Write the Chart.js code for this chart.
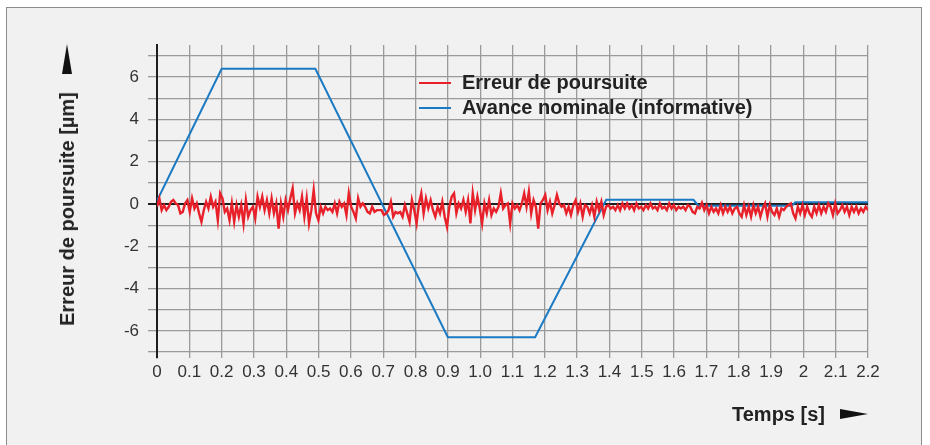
<!DOCTYPE html>
<html lang="fr">
  <head>
    <meta charset="UTF-8" />
    <title>Erreur de poursuite</title>
    <script src="https://cdn.jsdelivr.net/npm/chart.js"></script>
    <style>
      body { margin: 0; background: #fff; font-family: "Liberation Sans", Arial, sans-serif; }
      #frame { position: absolute; left: 6px; top: 7px; width: 914px; height: 460px; border: 1.5px solid #8c8c8c; background: #f1f1f1; }
      #chart { position: absolute; left: 0; top: 0; }
      .title { position: absolute; font-weight: bold; font-size: 20px; color: #222; white-space: nowrap; line-height: 24px; }
      .legend-line { position: absolute; left: 419px; width: 32px; height: 2px; }
    </style>
  </head>
  <body>
    <div id="frame"></div>
    <canvas id="chart" width="930" height="445"></canvas>

    <!-- axis titles -->
    <div class="title" id="yTitle" style="left:67px; top:209px; transform: translate(-50%, -50%) rotate(-90deg);">Erreur de poursuite [µm]</div>
    <div class="title" style="left:732px; top:402px;">Temps [s]</div>
    <svg style="position:absolute;left:0;top:0" width="930" height="445">
      <polygon points="67,44 62,74 72,74" fill="#111" />
      <polygon points="840,409 840,419 868,414" fill="#111" />
    </svg>

    <!-- legend -->
    <div class="legend-line" style="top:82px; background:#e8202a"></div>
    <div class="title" style="left:462px; top:70px;">Erreur de poursuite</div>
    <div class="legend-line" style="top:107px; background:#1b7ac4"></div>
    <div class="title" style="left:462px; top:95px;">Avance nominale (informative)</div>

    <script>
      // axes
      const X_TICKS = [0, 0.1, 0.2, 0.3, 0.4, 0.5, 0.6, 0.7, 0.8, 0.9, 1.0, 1.1, 1.2, 1.3, 1.4, 1.5, 1.6, 1.7, 1.8, 1.9, 2.0, 2.1, 2.2];
      const X_TICK_LABELS = ["0", "0.1", "0.2", "0.3", "0.4", "0.5", "0.6", "0.7", "0.8", "0.9", "1.0", "1.1", "1.2", "1.3", "1.4", "1.5", "1.6", "1.7", "1.8", "1.9", "2", "2.1", "2.2"];
      const Y_TICKS = [-7, -6, -5, -4, -3, -2, -1, 0, 1, 2, 3, 4, 5, 6, 7];
      const Y_TICK_LABELS = ["", "-6", "", "-4", "", "-2", "", "0", "", "2", "", "4", "", "6", ""];

      // avance nominale (informative)
      const NOMINAL_T = [0, 0.2, 0.49, 0.9, 1.17, 1.39, 1.66, 1.675, 1.965, 1.975, 2.2];
      const NOMINAL_V = [0.15, 6.4, 6.4, -6.3, -6.3, 0.2, 0.2, -0.08, -0.08, 0.08, 0.08];

      // erreur de poursuite, samples evenly spaced from 0 to 2.2 s
      const ERROR_T_END = 2.2;
      const ERROR_V = [
        -0.13, 0.27, -0.29, -0.05, -0.29, -0.13, 0.11, 0.19, 0.03, -0.05, -0.44,
        -0.37, 0.03, 0.19, -0.37, 0.27, -0.21, 0.03, -0.44, -0.84, -0.29,
        0.11, -0.21, 0.35, -0.13, 0.11, -0.76, 0.51, 0.27, -0.37, -0.21,
        -0.76, 0.03, -0.84, -0.05, -0.6, -0.05, -0.92, 0.19, -0.6, -0.29,
        -0.13, -0.68, 0.35, -0.13, 0.35, -0.29, 0.19, -0.44, 0.27, -0.44, 0.03,
        -1.16, 0.03, -0.6, 0.19, -0.29, 0.27, 0.75, -0.44, 0.03, -0.29,
        0.35, -0.6, 0.27, -0.92, -0.29, 0.67, -0.44, -0.76, -0.13, -0.44, -0.13, -0.29,
        -0.21, -0.37, 0.03, -0.44, 0.11, -0.13, 0.03, -0.52, 0.51, -0.13,
        -0.37, -0.68, 0.27, -0.13, 0.03, -0.13, -0.37, -0.44, -0.13, -0.37,
        -0.29, -0.29, -0.29, -0.52, -0.44, -0.29, 0.11, -0.6, -0.37, -0.44,
        -0.37, -0.6, -0.05, -0.44, -0.84, 0.19, -0.29, -0.92, 0.03, 0.51,
        -0.44, 0.27, -0.21, 0.19, -0.29, -0.6, -0.13, -0.44, 0.11, -0.6,
        -1.08, -0.13, 0.35, 0.51, -0.44, 0.03, -0.21, 0.19, -0.37, 0.19,
        -0.92, 0.51, -0.29, 0.35, -0.21, -0.92, 0.03, -0.44, 0.19, -0.52,
        -0.21, -0.37, -0.13, 0.51, -0.21, -0.05,
        0.03, -0.92, 0.03, -0.21, -0.05, -0.29, 0.03, 0.51, -0.13, 0.59,
        -0.44, 0.19, -0.13, -1.16, 0.03, 0.19, 0.43, -0.29, 0.11, -0.44,
        -0.05, 0.43, 0.03, -0.13, -0.05, -0.44, -0.13, -0.52, -0.05, 0.19,
        -0.37, 0.03, -0.6, -0.05, -0.13, -0.44, -0.05, -0.6, 0.11, -0.29,
        0.11, -0.52, -0.13, -0.05, -0.21, -0.13, -0.29, -0.05, -0.29, 0.03,
        -0.21, 0.03, -0.21, -0.05, -0.29, 0.03, -0.21, -0.13, -0.29, -0.05,
        -0.21, 0.03, -0.21, -0.13, -0.29, 0.03, -0.21, -0.13, -0.29, 0.03,
        -0.21, -0.05, -0.29, -0.13, -0.21, -0.13, -0.29, -0.05,
        -0.13, -0.37, -0.44, -0.13, -0.21, 0.06, -0.29, -0.05, -0.44, -0.13,
        -0.37, -0.21, -0.44, -0.05, -0.44, -0.13, -0.37, -0.13, -0.44, -0.21,
        -0.13, -0.44, -0.6, -0.05, -0.52, -0.13, -0.6, -0.05, -0.44, -0.13,
        -0.6, -0.21, 0.03, -0.6, -0.05, -0.37, -0.52, -0.21, -0.6, -0.21,
        -0.29, -0.13, -0.05, 0.03, -0.44, -0.68, -0.13, -0.44, -0.05, -0.52,
        -0.13, -0.44, -0.6, -0.13, -0.44, -0.05, -0.44, -0.13, -0.37, 0.03,
        -0.13, -0.52, 0.03, -0.44, -0.29, -0.05, -0.37, -0.13, -0.52, -0.13,
        -0.37, -0.13, -0.44, -0.21, -0.37, -0.13, -0.29
      ];

      const errorStep = ERROR_T_END / (ERROR_V.length - 1);
      const errorData = ERROR_V.map((v, i) => ({ x: i * errorStep, y: v }));
      const nominalData = NOMINAL_T.map((t, i) => ({ x: t, y: NOMINAL_V[i] }));

      const GRID = "#9a9a9a";
      const AXIS = "#1e1e1e";
      const tickFont = { family: "'Liberation Sans', Arial, sans-serif", size: 17 };

      new Chart(document.getElementById("chart"), {
        type: "line",
        data: {
          datasets: [
            { label: "Erreur de poursuite", data: errorData, borderColor: "#e8202a", borderWidth: 2.4, pointRadius: 0, tension: 0 },
            { label: "Avance nominale (informative)", data: nominalData, borderColor: "#1b7ac4", borderWidth: 2, pointRadius: 0, tension: 0 }
          ]
        },
        options: {
          responsive: false,
          animation: false,
          layout: { padding: { left: 0, right: 62, top: 45, bottom: 0 } },
          plugins: { legend: { display: false }, tooltip: { enabled: false } },
          scales: {
            x: {
              type: "linear",
              min: 0,
              max: 2.2,
              afterBuildTicks: s => { s.ticks = X_TICKS.map(v => ({ value: v })); },
              afterFit: s => { s.height = 87; },
              ticks: {
                autoSkip: false,
                maxRotation: 0,
                padding: 4,
                color: "#333",
                font: tickFont,
                callback: (v, i) => X_TICK_LABELS[i]
              },
              grid: {
                drawTicks: false,
                lineWidth: 1.3,
                color: c => (c.tick && c.tick.value === 0 ? AXIS : GRID)
              },
              border: { display: false }
            },
            y: {
              type: "linear",
              min: -7.28,
              max: 7.52,
              afterBuildTicks: s => { s.ticks = Y_TICKS.map(v => ({ value: v })); },
              afterFit: s => { s.width = 157; },
              ticks: {
                autoSkip: false,
                padding: 9,
                color: "#333",
                font: tickFont,
                callback: (v, i) => Y_TICK_LABELS[i]
              },
              grid: {
                drawTicks: true,
                tickLength: 9,
                lineWidth: c => (c.tick && c.tick.value === 0 ? 2 : 1.3),
                color: c => (c.tick && c.tick.value === 0 ? AXIS : GRID)
              },
              border: { display: true, color: AXIS, width: 2 }
            }
          }
        }
      });
    </script>
  </body>
</html>
